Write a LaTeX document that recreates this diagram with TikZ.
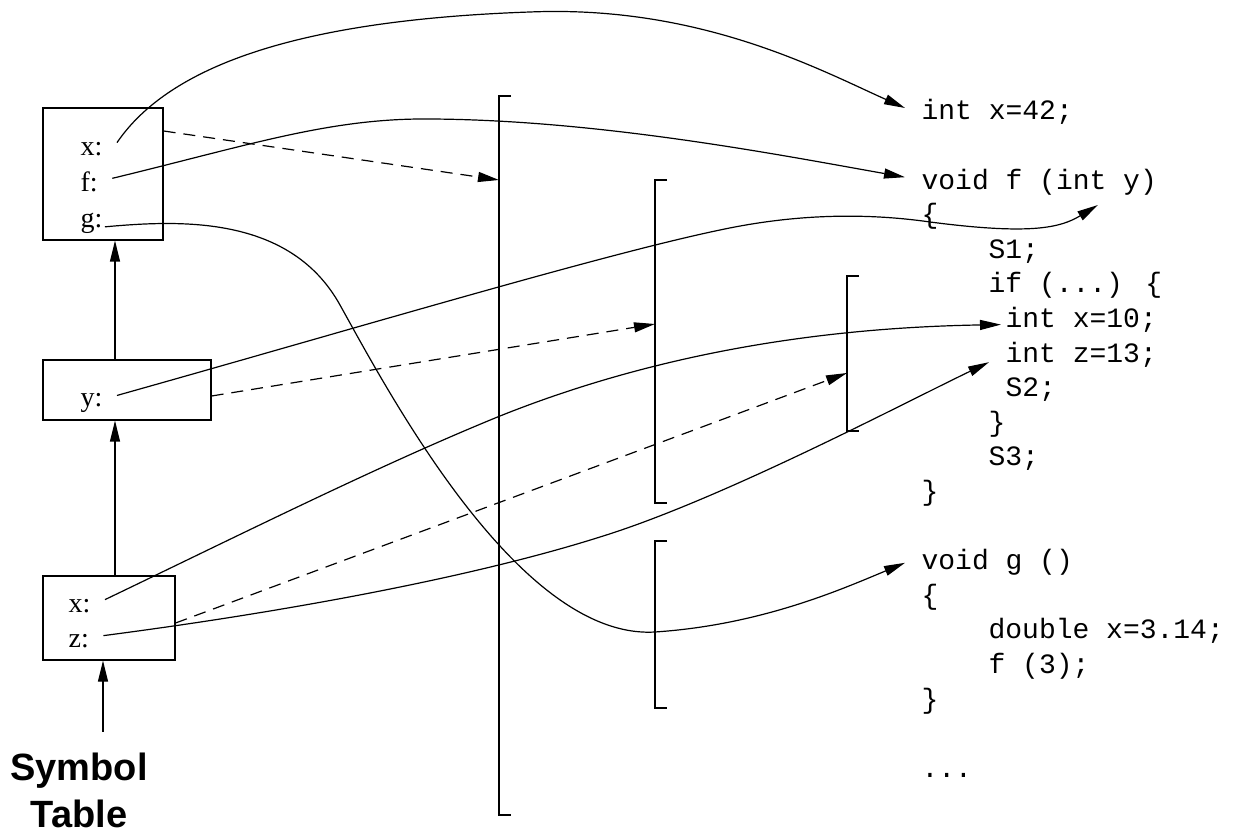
\documentclass[tikz,border=0pt]{standalone}
\usepackage{fontspec}
\setmainfont{Liberation Serif}
\newfontfamily\codefont{Liberation Mono}
\newfontfamily\headfont{Liberation Sans}
\usepackage{tikz}
\usetikzlibrary{positioning, arrows.meta, calc}
\tikzstyle{tbl}=[%
      rectangle, draw=black, line width=0.6pt, fill=none, inner sep=0pt
]
\tikzstyle{sym}=[%
      font=\fontsize{14}{16}\selectfont, inner sep=0pt, anchor=base west
]
\tikzstyle{code}=[%
      font=\codefont\fontsize{14}{17}\selectfont, inner sep=0pt, anchor=base west,
      text height=10pt, text depth=3pt
]
\tikzstyle{scp}=[%
      ->, dash pattern=on 6pt off 4pt
]

\begin{document}
\begin{tikzpicture}[x=0.5pt, y=-0.5pt, line width=0.6pt,
    >={Triangle[length=10.5pt,width=5pt]}
  ]
    \useasboundingbox (0,0) rectangle (1247,833);

    % symbol table
    \node[tbl, minimum width=60pt, minimum height=66pt] (b1) at (103,174) {};
    \node[tbl, minimum width=84pt, minimum height=30pt] (b2) at (127,390) {};
    \node[tbl, minimum width=66pt, minimum height=42pt] (b3) at (109,618) {};
    \node[sym] (sx1) at (80,156) {x:};
    \node[sym] (sf)  at (80,192) {f:};
    \node[sym] (sg)  at (80,228) {g:};
    \node[sym] (sy)  at (80,407) {y:};
    \node[sym] (sx2) at (68,612) {x:};
    \node[sym] (sz)  at (68,647) {z:};
    \node[font=\headfont\bfseries\fontsize{19}{23.5}\selectfont, align=center, inner sep=0pt] (st) at (79,790) {Symbol\\Table};

    \draw[->] ([xshift=-6pt]b2.north) -- ([xshift=6pt]b1.south);
    \draw[->] ([xshift=3pt]b3.north) -- ([xshift=-6pt]b2.south);
    \draw[->] ([xshift=12pt,yshift=10pt]st.north) -- ([xshift=-3pt]b3.south);

    % program text
    \node[code] (c42) at (921,120)   {int x=42;};
    \node[code] (cf)  at (921,189.2) {void f (int y)};
    \node[code] (cfo) at (921,223.8) {\{};
    \node[code] (cs1) at (988,258.4) {S1;};
    \node[code] (cif) at (988,293)   {if (...) \{};
    \node[code] (cix) at (1005,327.6) {int x=10;};
    \node[code] (ciz) at (1005,362.2) {int z=13;};
    \node[code] (cs2) at (1005,396.8) {S2;};
    \node[code] (cic) at (988,431.4) {\}};
    \node[code] (cs3) at (988,466)   {S3;};
    \node[code] (cfc) at (921,500.6) {\}};
    \node[code] (cg)  at (921,569.8) {void g ()};
    \node[code] (cgo) at (921,604.4) {\{};
    \node[code] (cdx) at (988,639)   {double x=3.14;};
    \node[code] (cf3) at (988,673.6) {f (3);};
    \node[code] (cgc) at (921,708.2) {\}};
    \node[code] (cdd) at (921,777.4) {...};
    \coordinate (yarg) at (1098,205);

    % scopes
    \coordinate (gt) at (499,96);  \coordinate (gb) at (499,815);
    \coordinate (ft) at (655,180); \coordinate (fb) at (655,503);
    \coordinate (it) at (847,276); \coordinate (ib) at (847,431);
    \coordinate (ht) at (655,541); \coordinate (hb) at (655,708);
    \draw ([xshift=6pt]gt) -- (gt) -- (gb) -- ([xshift=6pt]gb);
    \draw ([xshift=6pt]ft) -- (ft) -- (fb) -- ([xshift=6pt]fb);
    \draw ([xshift=6pt]it) -- (it) -- (ib) -- ([xshift=6pt]ib);
    \draw ([xshift=6pt]ht) -- (ht) -- (hb) -- ([xshift=6pt]hb);
    \coordinate (gin) at (499,180);
    \coordinate (fin) at (655,324);
    \coordinate (iin) at (847,373);

    \draw[scp] ([yshift=21.5pt]b1.east) -- (gin);
    \draw[scp] ([yshift=-3pt]b2.east) -- (fin);
    \draw[scp] ([yshift=-2.5pt]b3.east) -- (iin);

    % bindings
    \draw[->] ([shift={(7pt,3.5pt)}]sx1.east) .. controls (170,65) and (300,20) .. (530,12)
          .. controls (700,5) and (820,70) .. ([shift={(-8pt,2.5pt)}]c42.west);
    \draw[->] ([shift={(7pt,2pt)}]sf.east) .. controls (250,145) and (330,118) .. (430,119)
          .. controls (600,120) and (780,155) .. ([shift={(-8pt,2.5pt)}]cf.west);
    \draw[->] ([shift={(1pt,-1.5pt)}]sg.east) .. controls (180,220) and (290,215) .. (340,305)
          .. controls (390,395) and (520,640) .. (655,632)
          .. controls (760,625) and (840,590) .. ([xshift=-8pt]cg.west);
    \draw[->] ([shift={(7pt,4pt)}]sy.east) .. controls (350,330) and (600,255) .. (720,230)
          .. controls (790,215) and (860,212) .. (930,222)
          .. controls (1030,235) and (1060,228) .. (yarg);
    \draw[->] ([shift={(7pt,3pt)}]sx2.east) .. controls (250,530) and (380,465) .. (500,416)
          .. controls (640,360) and (800,328) .. ([shift={(-2pt,-2pt)}]cix.west);
    \draw[->] ([shift={(7pt,2.5pt)}]sz.east) .. controls (300,610) and (480,575) .. (600,537)
          .. controls (720,500) and (900,405) .. ([xshift=-8pt]ciz.base west);

  \end{tikzpicture}
\end{document}
